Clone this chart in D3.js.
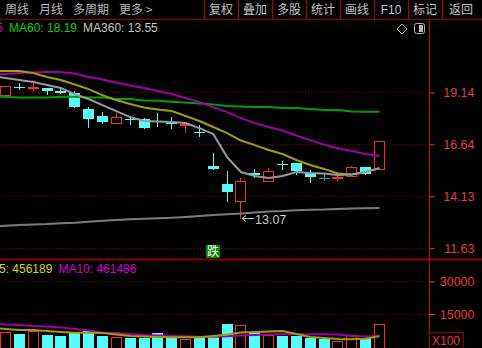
<!DOCTYPE html>
<html>
<head>
<meta charset="utf-8">
<script src="https://cdn.jsdelivr.net/npm/d3@7/dist/d3.min.js"></script>
<style>
html, body { margin: 0; padding: 0; background: #000; overflow: hidden; }
svg { display: block; }
</style>
</head>
<body>
<div id="chart"></div>
<script>
var W = 482, H = 348;

// daily candles, index 0 = leftmost visible day
var open   = [18.99, 19.40, 19.37, 19.33, 19.19, 19.09, 18.32, 17.98, 17.64, 17.83, 17.84, 17.72, 17.63, 17.55, 17.22, 15.57, 14.70, 13.88, 15.21, 14.85, 15.69, 15.72, 15.23, 15.00, 14.99, 15.09, 15.52, 15.43];
var high   = [19.45, 19.57, 19.67, 19.33, 19.33, 19.19, 18.42, 18.18, 18.13, 17.98, 17.90, 18.13, 17.93, 17.64, 17.55, 16.20, 15.33, 15.00, 15.43, 15.47, 15.81, 15.72, 15.38, 15.23, 15.09, 15.57, 15.52, 16.78];
var low    = [18.92, 19.28, 19.19, 19.04, 19.09, 18.42, 17.45, 17.64, 17.64, 17.60, 17.40, 17.50, 17.40, 17.21, 17.02, 15.43, 13.88, 13.07, 15.04, 14.85, 15.43, 15.18, 14.80, 14.89, 14.85, 15.09, 15.18, 15.43];
var close  = [19.43, 19.39, 19.38, 19.19, 19.09, 18.42, 17.84, 17.69, 17.93, 17.81, 17.40, 17.70, 17.61, 17.60, 17.19, 15.43, 14.32, 14.85, 15.16, 15.33, 15.65, 15.33, 15.04, 15.00, 15.04, 15.52, 15.18, 16.78];
var volume = [6323, 5400, 6784, 4938, 4754, 6600, 6784, 4615, 4292, 3831, 3831, 5861, 4015, 3092, 4015, 4015, 10154, 9554, 6600, 4938, 4615, 4615, 3554, 3092, 2308, 4938, 3554, 10154];

// moving averages, index -1 .. 27 (first point is the day before the first visible candle)
var ma5    = [19.91, 19.82, 19.72, 19.62, 19.48, 19.33, 19.04, 18.80, 18.51, 18.22, 17.93, 17.74, 17.72, 17.69, 17.64, 17.40, 17.11, 16.00, 15.28, 15.09, 14.99, 15.09, 15.28, 15.23, 15.21, 15.14, 15.16, 15.28, 15.47];
var ma10   = [20.15, 20.15, 20.15, 20.06, 19.86, 19.72, 19.50, 19.28, 18.99, 18.75, 18.56, 18.39, 18.30, 18.22, 17.98, 17.74, 17.45, 17.16, 16.80, 16.58, 16.34, 16.15, 15.86, 15.62, 15.43, 15.21, 15.16, 15.28, 15.47];
var ma30   = [19.96, 20.01, 20.06, 20.08, 20.10, 20.10, 20.03, 19.86, 19.74, 19.60, 19.45, 19.33, 19.19, 19.04, 18.85, 18.66, 18.41, 18.17, 17.88, 17.64, 17.45, 17.28, 17.04, 16.82, 16.60, 16.43, 16.29, 16.15, 16.05];
var ma60   = [18.91, 18.91, 18.87, 18.87, 18.87, 18.91, 18.91, 18.87, 18.87, 18.80, 18.80, 18.73, 18.72, 18.67, 18.63, 18.59, 18.54, 18.46, 18.44, 18.42, 18.42, 18.37, 18.37, 18.32, 18.27, 18.27, 18.20, 18.19, 18.19];
var ma360  = [12.65, 12.69, 12.72, 12.75, 12.77, 12.81, 12.83, 12.88, 12.93, 12.97, 13.00, 13.03, 13.05, 13.07, 13.11, 13.16, 13.21, 13.24, 13.28, 13.33, 13.38, 13.40, 13.44, 13.46, 13.47, 13.50, 13.52, 13.53, 13.55];
var volMa5  = [8307, 7846, 7384, 7384, 6923, 6461, 6138, 6138, 6000, 5307, 4615, 4384, 4154, 4015, 4015, 4015, 4615, 5307, 6230, 6461, 6692, 6923, 5538, 4154, 3692, 3231, 3092, 3369, 4561.89];
var volMa10 = [10384, 9922, 9692, 9230, 9000, 8538, 7846, 7153, 6138, 6000, 5538, 5077, 4846, 4615, 4477, 4292, 4292, 4477, 4846, 5077, 5307, 5400, 5400, 5400, 5400, 5307, 4615, 4384, 4614.86];

var priceTicks = [19.14, 16.64, 14.13, 11.63];
var volTicks = [30000, 15000];
var leftMenu = ["周线", "月线", "多周期", "更多 >"];
var rightMenu = ["复权", "叠加", "多股", "统计", "画线", "F10", "标记", "返回"];
var markIndex = [15], markText = ["跌"];

var RED = "#f03030", CYAN = "#54fcfc", FLAT = "#2aa6a6", AXIS = "#e83a3a", GRID = "#8a0000";
var LAT = "'Liberation Sans', Arial, sans-serif", CJK = "'Noto Sans CJK SC', sans-serif";

var axisX = 429, mainTop = 19, mainBot = 259;

var svg = d3.select("#chart").append("svg")
    .attr("width", W)
    .attr("height", H)
    .style("background", "#000")
    .style("font-family", LAT);

var x = d3.scaleLinear().domain([0, 27]).range([5.5, 379.45]);
var y = d3.scaleLinear().domain([11.63, 19.14]).range([247.7, 92]);
var yv = d3.scaleLinear().domain([0, 30000]).range([346, 281]);

var defs = svg.append("defs");
defs.append("clipPath").attr("id", "clipMain")
    .append("rect").attr("x", 0).attr("y", mainTop + 1).attr("width", axisX).attr("height", mainBot - mainTop - 1);
defs.append("clipPath").attr("id", "clipVol")
    .append("rect").attr("x", 0).attr("y", mainBot + 2).attr("width", axisX).attr("height", H - mainBot - 2);

// ---- toolbar
var lx = 5;
leftMenu.forEach(function(t) {
  var el = svg.append("text")
      .attr("x", lx).attr("y", 14)
      .style("font-family", CJK).style("font-size", "12px")
      .style("fill", "#b8b8b8")
      .text(t);
  lx += el.node().getComputedTextLength() + 10;
});

var cellW = 34, cellX0 = 204;
rightMenu.forEach(function(t, i) {
  var cx = cellX0 + i * cellW;
  svg.append("line")
      .attr("x1", cx + 0.5).attr("x2", cx + 0.5)
      .attr("y1", 0).attr("y2", mainTop)
      .style("stroke", "#b00000");
  svg.append("text")
      .attr("x", cx + cellW / 2 + (i == rightMenu.length - 1 ? 2 : 0)).attr("y", 14)
      .attr("text-anchor", "middle")
      .style("font-family", t == "F10" ? LAT : CJK).style("font-size", "12px")
      .style("fill", "#c4c4c4")
      .text(t);
});

svg.append("line").attr("x1", 0).attr("x2", W).attr("y1", mainTop + 0.5).attr("y2", mainTop + 0.5)
    .style("stroke", "#900000");
svg.append("line").attr("x1", 0).attr("x2", W).attr("y1", mainBot + 0.5).attr("y2", mainBot + 0.5)
    .style("stroke", "#900000").style("stroke-width", 2);
svg.append("line").attr("x1", axisX + 0.5).attr("x2", axisX + 0.5).attr("y1", mainTop).attr("y2", H)
    .style("stroke", "#d00000");

// ---- grid + axes
priceTicks.forEach(function(t) {
  svg.append("line")
      .attr("x1", 2).attr("x2", axisX)
      .attr("y1", Math.round(y(t)) + 0.5).attr("y2", Math.round(y(t)) + 0.5)
      .style("stroke", GRID).style("stroke-dasharray", "1,2");
});
volTicks.forEach(function(t) {
  svg.append("line")
      .attr("x1", 2).attr("x2", axisX)
      .attr("y1", Math.round(yv(t)) + 0.5).attr("y2", Math.round(yv(t)) + 0.5)
      .style("stroke", GRID).style("stroke-dasharray", "1,2");
});

var yAxis = svg.append("g")
    .attr("transform", "translate(" + (axisX + 0.5) + ",0.5)")
    .call(d3.axisRight(y).tickValues(priceTicks).tickSize(5).tickFormat(d3.format(".2f")));
var vAxis = svg.append("g")
    .attr("transform", "translate(" + (axisX + 0.5) + ",0.5)")
    .call(d3.axisRight(yv).tickValues(volTicks).tickSize(5).tickFormat(d3.format("d")));
[yAxis, vAxis].forEach(function(a) {
  a.select(".domain").remove();
  a.selectAll(".tick line").style("stroke", AXIS);
  a.selectAll(".tick text")
      .attr("x", 45).attr("text-anchor", "end")
      .style("font-family", LAT).style("font-size", "12.5px")
      .style("fill", AXIS);
});

svg.append("rect").attr("x", axisX + 0.5).attr("y", 332.5).attr("width", 34).attr("height", 16)
    .style("fill", "none").style("stroke", "#900000");
svg.append("text").attr("x", axisX + 3).attr("y", 345)
    .style("font-size", "12px").style("fill", AXIS).text("X100");

// ---- candles
var days = d3.range(open.length);
function candleColor(i) {
  if (close[i] > open[i]) return RED;
  if (close[i] < open[i]) return CYAN;
  return FLAT;
}

var cg = svg.append("g").attr("clip-path", "url(#clipMain)").style("shape-rendering", "crispEdges");
cg.selectAll("line.wick").data(days).enter().append("line")
    .attr("class", "wick")
    .attr("x1", function(i) { return Math.floor(x(i)) + 0.5; })
    .attr("x2", function(i) { return Math.floor(x(i)) + 0.5; })
    .attr("y1", function(i) { return Math.round(y(high[i])); })
    .attr("y2", function(i) { return Math.round(y(low[i])) + 1; })
    .style("stroke", candleColor);

cg.selectAll("rect.body").data(days).enter().append("rect")
    .attr("class", "body")
    .each(function(i) {
      var top = Math.round(y(Math.max(open[i], close[i])));
      var bot = Math.round(y(Math.min(open[i], close[i])));
      var left = Math.floor(x(i)) - 5;
      var r = d3.select(this);
      if (close[i] > open[i]) {
        r.attr("x", left + 0.5).attr("y", top + 0.5).attr("width", 10).attr("height", Math.max(1, bot - top))
         .style("fill", "#000").style("stroke", RED);
      } else {
        r.attr("x", left).attr("y", top).attr("width", 11).attr("height", Math.max(1, bot - top))
         .style("fill", candleColor(i));
      }
    });

// ---- moving average lines
var maX = function(d, k) { return x(k - 1); };
function maLine(g, arr, scale, color, w) {
  g.append("path")
      .datum(arr)
      .attr("d", d3.line().x(maX).y(function(d) { return scale(d); }))
      .style("fill", "none")
      .style("stroke", color)
      .style("stroke-width", w);
}
var lg = svg.append("g").attr("clip-path", "url(#clipMain)");
maLine(lg, ma360, y, "#7c7c7c", 2);
maLine(lg, ma60, y, "#00a000", 2);
maLine(lg, ma30, y, "#a000a8", 2);
maLine(lg, ma10, y, "#a0a000", 2);
maLine(lg, ma5, y, "#9a9a9a", 2);

// lowest low annotation
var lowIdx = d3.minIndex(low);
var ly = Math.round(y(low[lowIdx])) + 0.5, lxx = Math.floor(x(lowIdx)) + 2;
svg.append("line").attr("x1", lxx).attr("x2", lxx + 12).attr("y1", ly).attr("y2", ly)
    .style("stroke", "#c8c8c8");
svg.append("path").attr("d", "M" + lxx + "," + ly + "l4,-3M" + lxx + "," + ly + "l4,3")
    .style("stroke", "#c8c8c8").style("fill", "none");
svg.append("text").attr("x", lxx + 13).attr("y", ly + 5)
    .style("font-size", "12.5px").style("fill", "#c8c8c8")
    .text(d3.format(".2f")(low[lowIdx]));

// signal marks
markIndex.forEach(function(i, k) {
  var mx = Math.floor(x(i)) - 7;
  svg.append("rect").attr("x", mx).attr("y", 245).attr("width", 14).attr("height", 13)
      .style("fill", "#008a00");
  svg.append("text").attr("x", mx + 7).attr("y", 256).attr("text-anchor", "middle")
      .style("font-family", CJK).style("font-size", "12px").style("fill", "#fff")
      .text(markText[k]);
});

// ---- volume
var vg = svg.append("g").attr("clip-path", "url(#clipVol)").style("shape-rendering", "crispEdges");
vg.selectAll("rect.vol").data(days).enter().append("rect")
    .attr("class", "vol")
    .each(function(i) {
      var top = Math.round(yv(volume[i]));
      var left = Math.floor(x(i)) - 5;
      var r = d3.select(this);
      if (close[i] > open[i]) {
        r.attr("x", left + 0.5).attr("y", top + 0.5).attr("width", 10).attr("height", H - top)
         .style("fill", "#000").style("stroke", RED);
      } else {
        r.attr("x", left).attr("y", top).attr("width", 11).attr("height", H - top)
         .style("fill", CYAN);
      }
    });
var vl = svg.append("g").attr("clip-path", "url(#clipVol)");
maLine(vl, volMa10, yv, "#a000a8", 2);
maLine(vl, volMa5, yv, "#a0a000", 2);

// ---- legends (the left edge cuts the names, as in the terminal)
svg.append("text").attr("x", -4).attr("y", 32)
    .style("font-size", "12px").style("fill", "#d000d0")
    .text("5");
var t60 = svg.append("text").attr("x", 9).attr("y", 32)
    .style("font-size", "12px").style("fill", "#00d400")
    .text("MA60: " + d3.format(".2f")(ma60[ma60.length - 1]));
svg.append("text").attr("x", 9 + t60.node().getComputedTextLength() + 6).attr("y", 32)
    .style("font-size", "12px").style("fill", "#c8c8c8")
    .text("MA360: " + d3.format(".2f")(ma360[ma360.length - 1]));

var tv5 = svg.append("text").attr("x", -1).attr("y", 273)
    .style("font-size", "12px").style("fill", "#d8d800")
    .text("5: " + Math.round(volMa5[volMa5.length - 1] * 100));
svg.append("text").attr("x", -1 + tv5.node().getComputedTextLength() + 6).attr("y", 273)
    .style("font-size", "12px").style("fill", "#d800d8")
    .text("MA10: " + Math.round(volMa10[volMa10.length - 1] * 100));

// icons
svg.append("path").attr("d", "M402,24l5,5l-5,5l-5,-5z")
    .style("fill", "none").style("stroke", "#bbb");
svg.append("rect").attr("x", 414.5).attr("y", 23.5).attr("width", 10).attr("height", 10).attr("rx", 2)
    .style("fill", "none").style("stroke", "#bbb");
svg.append("rect").attr("x", 419).attr("y", 25).attr("width", 4).attr("height", 7)
    .style("fill", "#bbb");
</script>
</body>
</html>
